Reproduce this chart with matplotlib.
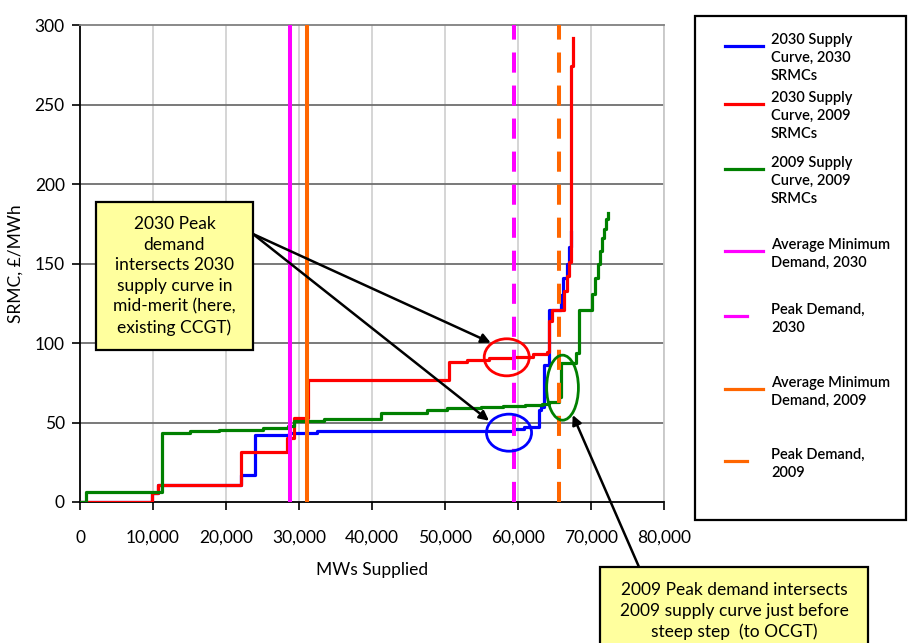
import matplotlib
matplotlib.use("Agg")
import matplotlib.pyplot as plt
from matplotlib.patches import Ellipse, Rectangle
from matplotlib.lines import Line2D

plt.rcParams['font.family'] = ['Lato', 'DejaVu Sans']

# ---------------- data ----------------
blue_mw = [0, 9800, 10700, 22000, 24000, 28600, 32500, 55800, 59500, 60800,
           62900, 63200, 63600, 64200, 65900, 66200, 66700, 67000, 67200]
blue_srmc = [0, 5.5, 10.7, 17, 42.4, 43.6, 44.8, 44.8, 45.7, 47,
             58, 60, 86, 120.8, 130, 140.7, 150, 160.6, 170]

red_mw = [0, 9800, 10700, 22000, 28400, 29300, 31200, 50500, 53000, 56000,
          59500, 62000, 64000, 64300, 64600, 66300, 66700, 67000, 67300, 67600]
red_srmc = [0, 5.5, 10.7, 31.6, 40, 53, 76.7, 88.2, 89.5, 90.5,
            91.4, 93, 94.5, 114, 121, 133, 142, 151, 274, 292]

green_mw = [0, 800, 11300, 15000, 19000, 25000, 28500, 29300, 33400, 41200,
            47600, 50300, 54900, 58000, 61000, 63300, 64300, 65600, 65900, 68000,
            68400, 70100, 70500, 70900, 71200, 71500, 71800, 72100, 72300]
green_srmc = [0, 6.5, 43.5, 44.5, 45.5, 46.7, 47.8, 51, 52.2, 55.8,
              57.9, 58.9, 59.6, 60.3, 61, 61.8, 63, 66, 87.5, 93.5,
              121, 131, 141, 150, 158, 166, 172, 178, 182]

demand_labels = ["Average Minimum\nDemand, 2030", "Peak Demand,\n2030",
                 "Average Minimum\nDemand, 2009", "Peak Demand,\n2009"]
demand_mw = [28700, 59400, 31100, 65600]

curve_labels = ["2030 Supply\nCurve, 2030\nSRMCs", "2030 Supply\nCurve, 2009\nSRMCs",
                "2009 Supply\nCurve, 2009\nSRMCs"]

x_ticks = list(range(0, 80001, 10000))
y_ticks = list(range(0, 301, 50))

# ---------------- figure ----------------
W, H = 908, 643
fig = plt.figure(figsize=(W / 100, H / 100), dpi=100)
L, R, T, B = 80, 664, 25, 502
ax = fig.add_axes([L / W, (H - B) / H, (R - L) / W, (B - T) / H])
ax.set_xlim(0, 80000)
ax.set_ylim(0, 300)

# grid
for yv in y_ticks[1:-1]:
    ax.axhline(yv, color='#6e6e6e', lw=1.3, zorder=1)
for xv in x_ticks[1:]:
    ax.axvline(xv, color='#d2d2d2', lw=1.3, zorder=0.9)

ax.spines['left'].set_color('black')
ax.spines['bottom'].set_color('black')
ax.spines['left'].set_linewidth(1.3)
ax.spines['bottom'].set_linewidth(1.3)
ax.spines['top'].set_color('#808080')
ax.spines['top'].set_linewidth(1.3)
ax.spines['right'].set_color('#c8c8c8')
ax.spines['right'].set_linewidth(1.3)

ax.set_xticks(x_ticks)
ax.set_xticklabels([f"{v:,}" for v in x_ticks])
ax.set_yticks(y_ticks)
ax.set_yticklabels([str(v) for v in y_ticks])
ax.tick_params(direction='out', length=6, width=1.2, labelsize=12.5)
ax.tick_params(axis='x', pad=14)
ax.tick_params(axis='y', pad=5)
ax.set_xlabel("MWs Supplied", fontsize=12.5, labelpad=12)
ax.set_ylabel("SRMC, £/MWh", fontsize=12.5, labelpad=8)

# curves
colors = ['#0000ff', '#ff0000', '#008000']
lw_c = 2.3
ax.plot(blue_mw, blue_srmc, drawstyle='steps-post', color=colors[0], lw=lw_c, zorder=3)
ax.plot(red_mw, red_srmc, drawstyle='steps-post', color=colors[1], lw=lw_c, zorder=3.1)
ax.plot(green_mw, green_srmc, drawstyle='steps-post', color=colors[2], lw=lw_c, zorder=3.2)

demand_colors = ['#ff00ff', '#ff00ff', '#ff6600', '#ff6600']
demand_dashed = [False, True, False, True]
lw_d = 2.9
for mw, c, d in zip(demand_mw, demand_colors, demand_dashed):
    ln = ax.axvline(mw, color=c, lw=lw_d, zorder=4)
    if d:
        ln.set_dashes((5, 3.2))

# ellipses
ax.add_patch(Ellipse((58460, 91), 6175, 23.3, fill=False, edgecolor='#ff0000', lw=2, zorder=5))
ax.add_patch(Ellipse((58770, 43.6), 6175, 23.3, fill=False, edgecolor='#0000ff', lw=2, zorder=5))
ax.add_patch(Ellipse((66100, 71.9), 4350, 40.9, fill=False, edgecolor='#008000', lw=2, zorder=5))

# annotation boxes (pixel coords, origin top-left -> convert)
def fx(px):
    return px / W

def fy(py):
    return (H - py) / H

box_fc = '#ffff9e'
fig.add_artist(Rectangle((fx(96), fy(350)), (253 - 96) / W, (350 - 202) / H,
                         transform=fig.transFigure, facecolor=box_fc, edgecolor='black',
                         lw=1.6, zorder=6))
fig.text(fx(174.5), fy(276), "2030 Peak\ndemand\nintersects 2030\nsupply curve in\nmid-merit (here,\nexisting CCGT)",
         ha='center', va='center', fontsize=12.5, linespacing=1.36, zorder=7)

fig.add_artist(Rectangle((fx(600), fy(660)), (868 - 600) / W, (660 - 567) / H,
                         transform=fig.transFigure, facecolor=box_fc, edgecolor='black',
                         lw=1.6, zorder=6))
fig.text(fx(734), fy(611), "2009 Peak demand intersects\n2009 supply curve just before\nsteep step  (to OCGT)",
         ha='center', va='center', fontsize=12.5, linespacing=1.36, zorder=7)

arrow_kw = dict(arrowstyle='-|>', color='black', lw=1.8, mutation_scale=14,
                shrinkA=0, shrinkB=0)
ax.annotate("", xy=(56260, 100.2), xycoords='data', xytext=(253, H - 234),
            textcoords='figure pixels', arrowprops=arrow_kw, zorder=6)
ax.annotate("", xy=(56030, 51.1), xycoords='data', xytext=(253, H - 234),
            textcoords='figure pixels', arrowprops=arrow_kw, zorder=6)
ax.annotate("", xy=(67500, 54.7), xycoords='data', xytext=(639, H - 567),
            textcoords='figure pixels', arrowprops=arrow_kw, zorder=6,
            annotation_clip=False)

# legend (manual)
fig.add_artist(Rectangle((fx(695), fy(520)), (906 - 695) / W, (520 - 16) / H,
                         transform=fig.transFigure, facecolor='white', edgecolor='black',
                         lw=1.6, zorder=6))
leg_labels = curve_labels + demand_labels
leg_colors = colors + demand_colors
leg_short = [False, False, False] + demand_dashed
leg_text_top = [33, 91, 156, 238, 303, 376, 448]
for lab, c, short, ty in zip(leg_labels, leg_colors, leg_short, leg_text_top):
    hy = ty + 13
    x1 = 747 if short else 763
    fig.add_artist(Line2D([fx(725), fx(x1)], [fy(hy), fy(hy)], transform=fig.transFigure,
                          color=c, lw=2.3, zorder=7))
    fig.text(fx(771), fy(ty), lab, ha='left', va='top', fontsize=10.5,
             fontweight='semibold', linespacing=1.38, zorder=7)

fig.savefig("out.png", dpi=100)
